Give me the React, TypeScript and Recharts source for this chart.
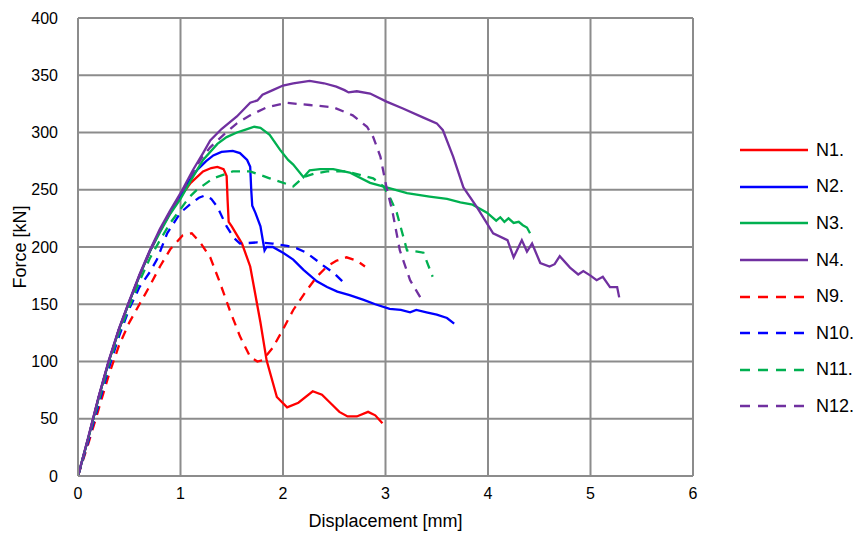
import React from "react";
import { LineChart, Line, XAxis, YAxis, CartesianGrid } from "recharts";

const n1: [number, number][] = [
  [0, 0], [0.1, 33], [0.2, 68], [0.3, 100], [0.4, 128], [0.5, 152], [0.6, 175], [0.7, 196], [0.8, 214], [0.9, 230],
  [1.0, 244], [1.1, 256], [1.22, 266], [1.3, 269], [1.36, 270], [1.42, 268], [1.45, 262], [1.46, 240], [1.47, 222],
  [1.5, 218], [1.6, 203], [1.68, 183], [1.78, 134], [1.84, 101], [1.94, 69], [2.04, 60], [2.15, 64], [2.29, 74],
  [2.38, 71], [2.46, 64], [2.55, 56], [2.63, 52], [2.72, 52], [2.83, 56], [2.9, 53], [2.97, 46],
];
const n2: [number, number][] = [
  [0, 0], [0.1, 33], [0.2, 68], [0.3, 100], [0.4, 128], [0.5, 152], [0.6, 175], [0.7, 196], [0.8, 214], [0.9, 230],
  [1.0, 245], [1.1, 260], [1.16, 267], [1.25, 275], [1.32, 280], [1.4, 283], [1.51, 284], [1.58, 282], [1.65, 276],
  [1.68, 270], [1.69, 250], [1.7, 236], [1.73, 230], [1.78, 218], [1.82, 197], [1.84, 200], [1.9, 200], [2.0, 195],
  [2.1, 189], [2.2, 180], [2.33, 170], [2.43, 165], [2.53, 161], [2.65, 158], [2.78, 154], [2.9, 150], [3.04, 146],
  [3.15, 145], [3.24, 143], [3.3, 145], [3.4, 143], [3.5, 141], [3.6, 138], [3.67, 133],
];
const n3: [number, number][] = [
  [0, 0], [0.1, 33], [0.2, 68], [0.3, 100], [0.4, 128], [0.5, 152], [0.6, 175], [0.7, 196], [0.8, 213], [0.9, 229],
  [1.0, 242], [1.1, 258], [1.22, 276], [1.36, 290], [1.45, 296], [1.55, 300], [1.65, 303], [1.72, 305], [1.78, 304],
  [1.87, 298], [1.97, 285], [2.05, 276], [2.1, 272], [2.2, 261], [2.26, 267], [2.36, 268], [2.49, 268], [2.65, 265],
  [2.85, 256], [3.01, 252], [3.21, 247], [3.43, 244], [3.6, 242], [3.73, 239], [3.85, 237], [3.99, 230], [4.08, 223],
  [4.12, 226], [4.16, 222], [4.2, 225], [4.25, 221], [4.3, 222], [4.34, 219], [4.38, 217], [4.41, 212],
];
const n4: [number, number][] = [
  [0, 0], [0.1, 34], [0.2, 69], [0.3, 101], [0.4, 129], [0.5, 153], [0.6, 176], [0.7, 197], [0.8, 216], [0.9, 232],
  [1.0, 247], [1.12, 267], [1.22, 282], [1.29, 293], [1.4, 303], [1.55, 314], [1.68, 326], [1.75, 328], [1.8, 333],
  [1.9, 337], [2.0, 341], [2.1, 343], [2.26, 345], [2.4, 343], [2.52, 340], [2.6, 337], [2.64, 335], [2.72, 336],
  [2.85, 334], [3.01, 327], [3.17, 321], [3.37, 313], [3.5, 308], [3.56, 302], [3.66, 279], [3.76, 252], [3.89, 235],
  [4.05, 212], [4.19, 206], [4.25, 191], [4.33, 206], [4.38, 196], [4.43, 203], [4.51, 186], [4.6, 183], [4.65, 185],
  [4.7, 192], [4.8, 182], [4.88, 176], [4.93, 179], [5.0, 175], [5.06, 171], [5.12, 174], [5.19, 165], [5.26, 165],
  [5.28, 156],
];
const n9: [number, number][] = [
  [0, 0], [0.1, 28], [0.2, 58], [0.3, 88], [0.4, 114], [0.5, 134], [0.6, 150], [0.7, 166], [0.8, 183], [0.9, 198],
  [0.97, 205], [1.02, 210], [1.11, 212], [1.2, 203], [1.29, 191], [1.38, 170], [1.48, 145], [1.58, 122], [1.68, 104],
  [1.75, 100], [1.8, 101], [1.9, 112], [2.0, 128], [2.1, 145], [2.23, 162], [2.33, 174], [2.43, 183], [2.52, 188],
  [2.62, 191], [2.72, 188], [2.8, 183],
];
const n10: [number, number][] = [
  [0, 0], [0.1, 30], [0.2, 62], [0.3, 94], [0.4, 122], [0.5, 146], [0.6, 165], [0.7, 178], [0.77, 189], [0.87, 212],
  [1.0, 230], [1.09, 237], [1.18, 243], [1.24, 245], [1.3, 242], [1.36, 235], [1.45, 218], [1.52, 208], [1.58, 203],
  [1.75, 204], [1.9, 203], [2.04, 201], [2.13, 199], [2.23, 195], [2.39, 184], [2.5, 177], [2.58, 170],
];
const n11: [number, number][] = [
  [0, 0], [0.1, 32], [0.2, 65], [0.3, 97], [0.4, 125], [0.5, 148], [0.6, 170], [0.7, 190], [0.8, 206], [0.9, 221],
  [1.0, 233], [1.08, 243], [1.16, 250], [1.32, 260], [1.51, 266], [1.68, 266], [1.87, 260], [2.07, 254], [2.1, 253],
  [2.2, 261], [2.3, 264], [2.43, 266], [2.62, 266], [2.75, 263], [2.88, 260], [2.98, 253], [3.05, 242], [3.11, 230],
  [3.21, 197], [3.31, 196], [3.37, 195], [3.46, 174],
];
const n12: [number, number][] = [
  [0, 0], [0.1, 33], [0.2, 68], [0.3, 100], [0.4, 128], [0.5, 152], [0.6, 175], [0.7, 196], [0.8, 215], [0.9, 231],
  [1.0, 246], [1.1, 262], [1.2, 277], [1.29, 287], [1.42, 298], [1.55, 308], [1.68, 315], [1.84, 322], [2.04, 326],
  [2.14, 325], [2.26, 324], [2.49, 322], [2.6, 318], [2.68, 315], [2.82, 305], [2.88, 296], [2.95, 279], [3.01, 252],
  [3.07, 230], [3.14, 197], [3.24, 171], [3.34, 156],
];

const xTicks = [0, 1, 2, 3, 4, 5, 6];
const yTicks = [0, 50, 100, 150, 200, 250, 300, 350, 400];

const seriesDefs = [
  { name: "N1.", pts: n1, color: "#FF0000", dash: false },
  { name: "N2.", pts: n2, color: "#0000FF", dash: false },
  { name: "N3.", pts: n3, color: "#00B050", dash: false },
  { name: "N4.", pts: n4, color: "#7030A0", dash: false },
  { name: "N9.", pts: n9, color: "#FF0000", dash: true },
  { name: "N10.", pts: n10, color: "#0000FF", dash: true },
  { name: "N11.", pts: n11, color: "#00B050", dash: true },
  { name: "N12.", pts: n12, color: "#7030A0", dash: true },
];

const FONT = "'Liberation Sans', Arial, sans-serif";
const DASH = "9 7";

const LegendBox = () => (
  <div style={{ position: "absolute", left: 739, top: 132, width: 116, fontFamily: FONT, whiteSpace: "nowrap" }}>
    {seriesDefs.map((s) => (
      <div key={s.name} style={{ display: "flex", alignItems: "center", height: 36.6 }}>
        <svg width={72} height={10} style={{ flex: "none" }}>
          <line x1={1} y1={5} x2={69} y2={5} stroke={s.color} strokeWidth={2.5}
            strokeDasharray={s.dash ? "10 8" : undefined} />
        </svg>
        <span style={{ fontSize: 18, color: "#000", marginLeft: 5, flex: "none" }}>{s.name}</span>
      </div>
    ))}
  </div>
);

export default function App() {
  return (
    <div style={{ position: "fixed", left: 0, top: 0, width: 856, height: 536, background: "#fff" }}>
      <LineChart width={856} height={536} margin={{ top: 18, right: 163, bottom: 0, left: 0 }}>
        <CartesianGrid stroke="#8c8c8c" strokeWidth={2} />
        <XAxis
          type="number"
          dataKey="x"
          domain={[0, 6]}
          ticks={xTicks}
          allowDuplicatedCategory={false}
          height={60}
          tickLine={false}
          axisLine={{ stroke: "#8c8c8c", strokeWidth: 2 }}
          tickMargin={6}
          tick={{ fill: "#000", fontSize: 16, fontFamily: FONT }}
          label={{ value: "Displacement [mm]", position: "insideBottom", offset: 9, fill: "#000", fontSize: 18, fontFamily: FONT }}
        />
        <YAxis
          type="number"
          domain={[0, 400]}
          ticks={yTicks}
          width={78}
          tickLine={false}
          axisLine={{ stroke: "#8c8c8c", strokeWidth: 2 }}
          tickMargin={14}
          tick={{ fill: "#000", fontSize: 16, fontFamily: FONT }}
          label={{ value: "Force [kN]", angle: -90, position: "insideLeft", offset: 20, style: { textAnchor: "middle" }, fill: "#000", fontSize: 18, fontFamily: FONT }}
        />
        {seriesDefs.map((s) => (
          <Line
            key={s.name}
            name={s.name}
            data={s.pts.map(([x, y]) => ({ x, y }))}
            dataKey="y"
            type="linear"
            stroke={s.color}
            strokeWidth={2.3}
            strokeDasharray={s.dash ? DASH : undefined}
            dot={false}
            activeDot={false}
            isAnimationActive={false}
          />
        ))}
      </LineChart>
      <LegendBox />
    </div>
  );
}
